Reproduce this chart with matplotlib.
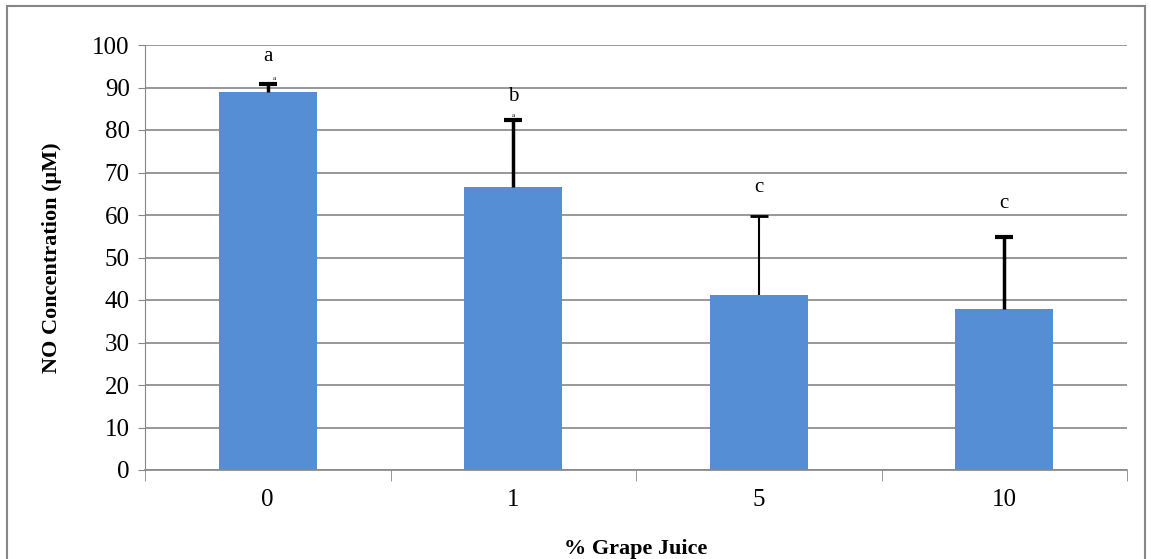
import numpy as np
import matplotlib.pyplot as plt
from matplotlib.patches import Rectangle

# values
categories = ['0', '1', '5', '10']
means = [89.0, 66.7, 41.2, 37.9]
errors = [1.9, 15.7, 18.6, 16.9]
letters = ['a', 'b', 'c', 'c']
letter_y = [97.2, 87.8, 66.4, 62.8]
err_widths = [2.5, 2.5, 1.5, 2.5]

plt.rcParams['font.family'] = ['Liberation Serif', 'DejaVu Serif']

fig = plt.figure(figsize=(11.51, 5.59), dpi=100)
ax = fig.add_axes([145 / 1151, 1 - 470 / 559, 982 / 1151, 425 / 559])

x = np.arange(len(categories))
tops = np.array(means) + np.array(errors)
ax.bar(x, means, width=0.4, color='#558ed5', zorder=2)
for i in range(len(x)):
    ax.vlines(x[i], means[i], tops[i], color='black',
              linewidth=err_widths[i], zorder=3)
    ax.plot(x[i], tops[i], marker='_', markersize=13,
            markeredgewidth=err_widths[i] + 0.5, color='black', zorder=3)
    ax.text(x[i], letter_y[i], letters[i], ha='center', va='center',
            fontsize=15)
# tiny stray labels near the first two caps
ax.text(x[0] + 0.025, 92.2, 'a', fontsize=5, ha='center', va='center')
ax.text(x[1], 83.3, 'a', fontsize=5, ha='center', va='center')

ax.set_xlim(-0.5, 3.5)
ax.set_ylim(0, 100)
ax.set_yticks(np.arange(0, 101, 10))
ax.yaxis.grid(True, color='#868686', linewidth=1.2, zorder=0)
ax.set_axisbelow(True)

ax.set_xticks(x)
ax.set_xticklabels(categories)
ax.set_xticks(np.arange(-0.5, 3.6, 1), minor=True)
ax.tick_params(axis='x', which='major', length=0, pad=14, labelsize=18)
ax.tick_params(axis='x', which='minor', length=8, color='#868686', direction='out')
ax.tick_params(axis='y', length=5, color='#868686', labelsize=18, pad=6)

for s in ['top', 'right']:
    ax.spines[s].set_visible(False)
ax.spines['left'].set_color('#868686')
ax.spines['bottom'].set_color('#868686')
ax.spines['bottom'].set_linewidth(1.2)

ax.set_ylabel('NO Concentration (\u03bcM)', fontsize=16, fontweight='bold', labelpad=22)
ax.set_xlabel('% Grape Juice', fontsize=16, fontweight='bold', labelpad=20)

# outer frame
fig.patches.append(Rectangle((7 / 1151, -0.05), 1138 / 1151, 1.04,
                             transform=fig.transFigure, fill=False,
                             edgecolor='#868686', linewidth=1.5))

fig.savefig('out.png', dpi=100)
